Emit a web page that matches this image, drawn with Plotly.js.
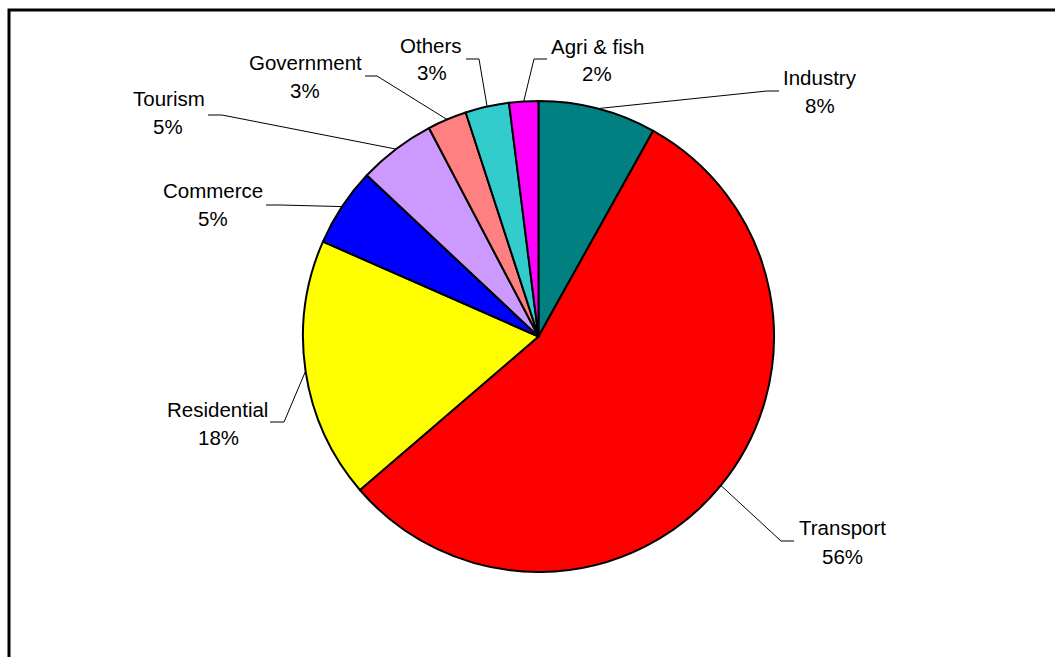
<!DOCTYPE html>
<html>
<head>
<meta charset="utf-8">
<script src="https://cdn.plot.ly/plotly-3.0.1.min.js"></script>
<style>html,body{margin:0;padding:0;background:#fff;}#chart{width:1055px;height:657px;}</style>
</head>
<body>
<div id="chart"></div>
<script>
// ---- data ----
const categories = ['Industry', 'Transport', 'Residential', 'Commerce', 'Tourism', 'Government', 'Others', 'Agri & fish'];
const shares = [8.1, 55.6, 17.9, 5.4, 5.3, 2.7, 3.0, 2.0];
const sliceColors = ['#008080', '#FF0000', '#FFFF00', '#0000FF', '#CC99FF', '#FF8080', '#33CCCC', '#FF00FF'];

// ---- layout (pixels) ----
const W = 1055, H = 657;
const CX = 538.5, CY = 336.5, R = 235.5;
// label placement: name centre, percent centre, leader elbow, leader end at label
const labelPos = [
  {nx: 820, ny: 77,  px: 820, py: 105, ex: 767, ey: 91,  lx: 779, ly: 91},
  {nx: 842, ny: 527, px: 842, py: 556, ex: 781, ey: 541, lx: 794, ly: 541},
  {nx: 217, ny: 409, px: 218, py: 437, ex: 284, ey: 422, lx: 270, ly: 422},
  {nx: 213, ny: 191, px: 213, py: 219, ex: 280, ey: 205, lx: 266, ly: 205},
  {nx: 169, ny: 99,  px: 168, py: 127, ex: 222, ey: 115, lx: 208, ly: 115},
  {nx: 305, ny: 62,  px: 305, py: 90,  ex: 377, ey: 76,  lx: 365, ly: 76},
  {nx: 431, ny: 45,  px: 432, py: 72,  ex: 479, ey: 59,  lx: 466, ly: 59},
  {nx: 597, ny: 46,  px: 597, py: 73,  ex: 534, ey: 59,  lx: 547, ly: 59}
];

const fx = p => p / W;
const fy = p => 1 - p / H;
const FONT = {family: '"Liberation Sans", Arial, sans-serif', size: 20.5, color: '#000'};

const total = shares.reduce((a, b) => a + b, 0);
const annotations = [];
const shapes = [];
let cum = 0;
categories.forEach((name, i) => {
  const mid = (cum + shares[i] / 2) / total * 2 * Math.PI;
  cum += shares[i];
  const sx = CX + R * Math.sin(mid);
  const sy = CY - R * Math.cos(mid);
  const L = labelPos[i];
  annotations.push({xref: 'paper', yref: 'paper', x: fx(L.nx), y: fy(L.ny), text: name,
    showarrow: false, xanchor: 'center', yanchor: 'middle', font: FONT});
  annotations.push({xref: 'paper', yref: 'paper', x: fx(L.px), y: fy(L.py),
    text: Math.round(shares[i] / total * 100) + '%',
    showarrow: false, xanchor: 'center', yanchor: 'middle', font: FONT});
  shapes.push({type: 'path', xref: 'paper', yref: 'paper',
    path: 'M ' + fx(L.lx) + ' ' + fy(L.ly) + ' L ' + fx(L.ex) + ' ' + fy(L.ey) + ' L ' + fx(sx) + ' ' + fy(sy),
    line: {color: '#000', width: 1}});
});
// chart area border
shapes.push({type: 'rect', xref: 'paper', yref: 'paper', x0: fx(9), y0: fy(10), x1: fx(1070), y1: fy(680),
  line: {color: '#000', width: 3}, fillcolor: 'rgba(0,0,0,0)'});

const trace = {
  type: 'pie',
  labels: categories,
  values: shares,
  sort: false,
  direction: 'clockwise',
  rotation: 0,
  textinfo: 'none',
  hoverinfo: 'none',
  marker: {colors: sliceColors, line: {color: '#000', width: 2}},
  domain: {x: [fx(CX - R), fx(CX + R)], y: [fy(CY + R), fy(CY - R)]}
};

const layout = {
  width: W, height: H,
  margin: {l: 0, r: 0, t: 0, b: 0},
  paper_bgcolor: '#fff',
  showlegend: false,
  annotations: annotations,
  shapes: shapes
};

Plotly.newPlot('chart', [trace], layout, {displayModeBar: false, staticPlot: true});
</script>
</body>
</html>
